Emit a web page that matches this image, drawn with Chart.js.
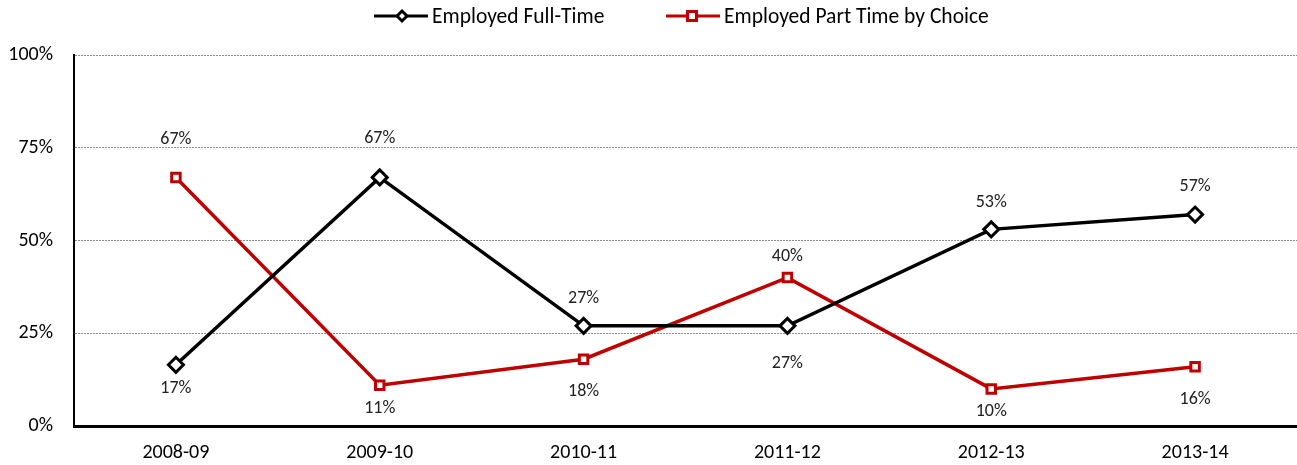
<!DOCTYPE html>
<html>
<head>
<meta charset="utf-8">
<script src="https://cdn.jsdelivr.net/npm/chart.js@4/dist/chart.umd.min.js"></script>
<style>
html,body{margin:0;padding:0;background:#fff;overflow:hidden;}
#wrap{width:1297px;height:465px;position:relative;}
#legend{position:absolute;left:0;top:0;width:1297px;height:32px;font-family:Carlito,Lato,'Liberation Sans',sans-serif;font-size:21.5px;color:#000;}
.li{position:absolute;top:3px;height:26px;display:flex;align-items:center;white-space:nowrap;}
.li canvas{margin-right:4px;}
</style>
</head>
<body>
<div id="wrap">
  <div id="legend"></div>
  <canvas id="c"></canvas>
</div>
<script>
const categories = ['2008-09','2009-10','2010-11','2011-12','2012-13','2013-14'];
const fullTime = [16.5, 67, 27, 27, 53, 57];
const partTime = [67, 11, 18, 40, 10, 16];
const fullTimeLabels = ['17%','67%','27%','27%','53%','57%'];
const partTimeLabels = ['67%','11%','18%','40%','10%','16%'];
const yTicks = [0, 25, 50, 75, 100];
const seriesNames = ['Employed Full-Time', 'Employed Part Time by Choice'];

// label placement (style): signed pixel offset from point (negative = above)
const ftOffsets = [24, -39, -27, 38, -27, -28];
const ptOffsets = [-38, 23, 32, -21, 23, 33];
const legendLeft = [374, 666];

const FONT = "Carlito, Lato, 'Liberation Sans', sans-serif";
const COLORS = ['#000000', '#C00000'];

function legendIcon(color, style) {
  const c = document.createElement('canvas');
  c.width = 54; c.height = 16;
  const x = c.getContext('2d');
  x.strokeStyle = color; x.lineWidth = 3;
  x.beginPath(); x.moveTo(0, 8); x.lineTo(54, 8); x.stroke();
  x.fillStyle = '#fff'; x.lineWidth = 3;
  if (style === 'diamond') {
    x.beginPath(); x.moveTo(28, 3); x.lineTo(33, 8); x.lineTo(28, 13); x.lineTo(23, 8); x.closePath();
    x.fill(); x.stroke();
  } else {
    x.fillRect(21.5, 3.5, 9, 9); x.strokeRect(21.5, 3.5, 9, 9);
  }
  return c;
}

const legendEl = document.getElementById('legend');
seriesNames.forEach((name, i) => {
  const item = document.createElement('div');
  item.className = 'li';
  item.style.left = legendLeft[i] + 'px';
  item.appendChild(legendIcon(COLORS[i], i === 0 ? 'diamond' : 'square'));
  const span = document.createElement('span');
  span.textContent = name;
  item.appendChild(span);
  legendEl.appendChild(item);
});

const labelPlugin = {
  id: 'pointLabels',
  afterDatasetsDraw(chart) {
    const ctx = chart.ctx;
    ctx.save();
    ctx.font = "18px " + FONT;
    ctx.fillStyle = '#222';
    ctx.textAlign = 'center';
    ctx.textBaseline = 'middle';
    const sets = [[fullTimeLabels, ftOffsets], [partTimeLabels, ptOffsets]];
    sets.forEach((s, di) => {
      const meta = chart.getDatasetMeta(di);
      meta.data.forEach((pt, i) => {
        ctx.fillText(s[0][i], pt.x, pt.y + s[1][i]);
      });
    });
    ctx.restore();
  }
};

new Chart(document.getElementById('c'), {
  type: 'line',
  data: {
    labels: categories,
    datasets: [
      {
        label: seriesNames[0],
        data: fullTime,
        borderColor: COLORS[0],
        backgroundColor: '#fff',
        borderWidth: 3.5,
        pointStyle: 'rectRot',
        pointRadius: 7.5,
        pointBorderWidth: 3,
        pointBackgroundColor: '#fff',
        pointBorderColor: COLORS[0],
        tension: 0,
        clip: false
      },
      {
        label: seriesNames[1],
        data: partTime,
        borderColor: COLORS[1],
        backgroundColor: '#fff',
        borderWidth: 3.5,
        pointStyle: 'rect',
        pointRadius: 6,
        pointBorderWidth: 3,
        pointBackgroundColor: '#fff',
        pointBorderColor: COLORS[1],
        tension: 0,
        clip: false
      }
    ]
  },
  options: {
    responsive: true,
    maintainAspectRatio: false,
    animation: false,
    layout: { autoPadding: false, padding: { top: 55, right: 0, left: 0, bottom: 0 } },
    plugins: {
      tooltip: { enabled: false },
      legend: { display: false }
    },
    scales: {
      x: {
        offset: true,
        grid: { display: true, drawOnChartArea: false, drawTicks: true, tickLength: 15, tickColor: 'rgba(0,0,0,0)', color: 'rgba(0,0,0,0)' },
        border: { display: true, color: '#000', width: 3 },
        ticks: { color: '#000', font: { size: 20, family: FONT }, padding: 0, maxRotation: 0 }
      },
      y: {
        min: 0, max: 100,
        afterBuildTicks(axis) { axis.ticks = yTicks.map(v => ({ value: v })); },
        afterFit(axis) { axis.width = 74; },
        grid: {
          color: (c) => c.tick && c.tick.value === 0 ? 'rgba(0,0,0,0)' : '#8c8c8c',
          lineWidth: 1,
          drawTicks: false
        },
        border: { display: true, color: '#000', width: 2, dash: [2, 1] },
        ticks: {
          color: '#000',
          font: { size: 20, family: FONT },
          padding: 21,
          callback: (v) => v + '%'
        }
      }
    }
  },
  plugins: [labelPlugin]
});
</script>
</body>
</html>
